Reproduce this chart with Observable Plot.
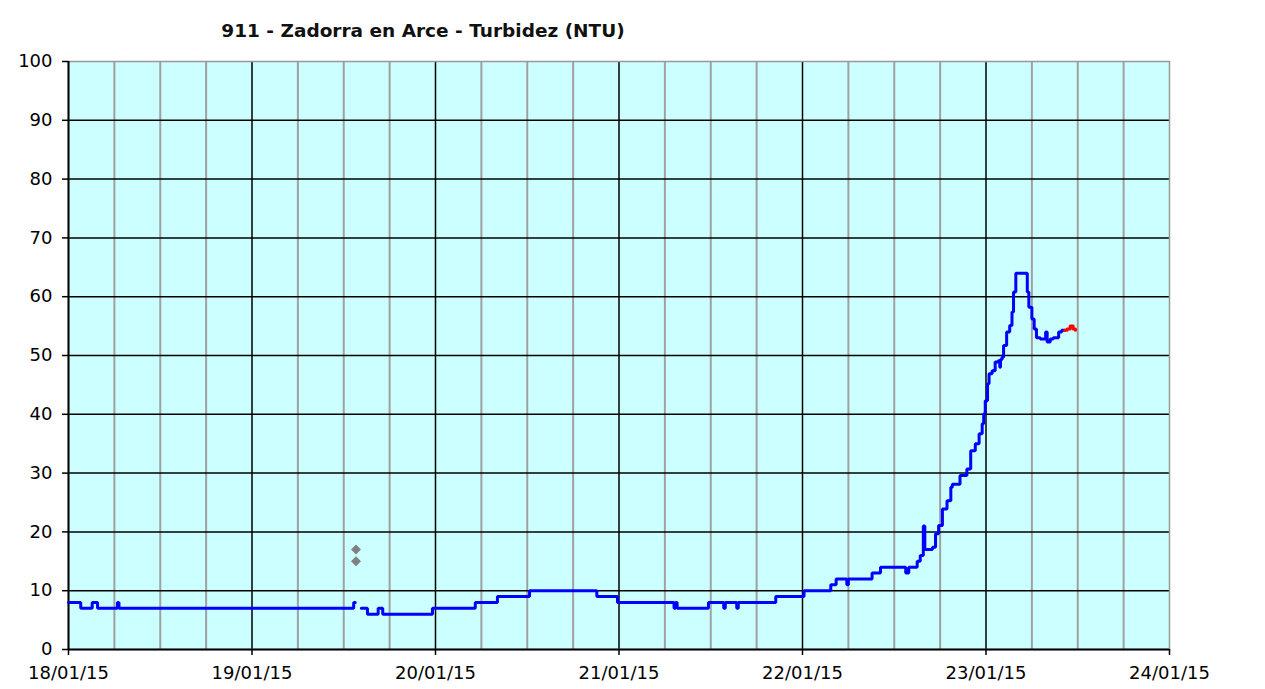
<!DOCTYPE html>
<html>
<head>
<meta charset="utf-8">
<script src="https://cdn.jsdelivr.net/npm/d3@7"></script>
<script src="https://cdn.jsdelivr.net/npm/@observablehq/plot@0.6"></script>
<style>
  html, body { margin: 0; padding: 0; background: #ffffff; }
  #wrap { position: relative; width: 1265px; height: 689px; }
  #title { position: absolute; left: 0; width: 846px; top: 20px; text-align: center;
           font-family: "DejaVu Sans", sans-serif; font-weight: bold; font-size: 18.5px; color: #111; line-height: 22px; }
  #chart { position: absolute; left: 0; top: 0; }
</style>
</head>
<body>
<div id="wrap">
  <div id="title">911 - Zadorra en Arce - Turbidez (NTU)</div>
  <div id="chart"></div>
</div>
<script>
// Time origin of the chart (18/01/15 00:00) and hours after it
const startDate = "2015-01-18T00:00:00Z";
const endDate = "2015-01-24T00:00:00Z";
const dayTicks = ["2015-01-18","2015-01-19","2015-01-20","2015-01-21","2015-01-22","2015-01-23","2015-01-24"];
const yTickValues = [0,10,20,30,40,50,60,70,80,90,100];

// Blue series (validated data): hours after start, turbidity (NTU); null = gap
const blueHours = [0,1.6,3.1,3.8,6.4,6.6,37.3,37.5,37.6,
  38.3,39.1,40.5,41.1,47.6,53.2,56.1,60.3,69.1,71.8,79.2,79.4,79.6,83.7,85.7,85.9,87.4,87.6,92.5,96.2,
  99.7,100.4,101.8,102.0,105.1,106.2,109.5,109.9,111.0,111.4,111.8,112.0,113.0,113.4,113.8,114.3,114.9,
  115.4,115.6,116.6,117.5,118.0,118.6,119.1,119.5,119.7,119.9,120.2,120.4,120.8,121.2,121.6,121.8,121.9,
  122.1,122.3,122.7,123.1,123.4,123.6,123.9,125.4,125.6,126.0,126.3,126.6,127.1,127.8,128.0,128.4,128.8,
  129.5,129.9,130.3];
const blueValues = [8,7,8,7,8,7,8,8,null,
  7,6,7,6,7,8,9,10,9,8,7,8,7,8,7,8,7,8,9,10,
  11,12,11,12,13,14,13,14,15,16,21,17,17.4,19.7,21.1,23.9,25.3,
  27.6,28.1,29.6,30.7,33.8,35,36.7,38.4,40.1,42.3,45.2,46.9,47.4,48.9,49.1,48,49.3,
  49.7,51.7,54,55.1,57.4,60.8,64,60.8,58.2,56.2,54.5,53,52.8,54,52.3,52.8,53,
  54,54.3,54.3];

// Red series (provisional data)
const redHours = [130.3,130.6,131.0,131.4,131.7];
const redValues = [54.3,54.5,55,54.5,54.3];

// Gray isolated points
const grayHours = [37.6,37.6];
const grayValues = [17,15];

const t0 = new Date(startDate).getTime();
const toDate = h => new Date(t0 + h * 3600e3);
const blue = blueHours.map((h,i) => ({t: toDate(h), v: blueValues[i]}));
const red = redHours.map((h,i) => ({t: toDate(h), v: redValues[i]}));
const gray = grayHours.map((h,i) => ({t: toDate(h), v: grayValues[i]}));
const days = dayTicks.map(d => new Date(d + "T00:00:00Z"));
const sixHours = d3.utcHour.every(6).range(new Date(startDate), new Date(endDate)).filter(d => d.getUTCHours() !== 0);

const chart = Plot.plot({
  width: 1265,
  height: 689,
  marginLeft: 68,
  marginRight: 96,
  marginTop: 61,
  marginBottom: 40,
  style: {fontFamily: "DejaVu Sans, sans-serif", fontSize: "18px", color: "#000", background: "transparent"},
  x: {type: "utc", domain: [new Date(startDate), new Date(endDate)]},
  y: {domain: [0, 100]},
  marks: [
    Plot.frame({fill: "#ccffff", stroke: null}),
    Plot.ruleX(sixHours, {stroke: "#a0a0a0", strokeWidth: 2}),
    Plot.ruleY(yTickValues.filter(v => v > 0 && v < 100), {stroke: "#000", strokeWidth: 1.5}),
    Plot.ruleX(days.slice(1, 6), {stroke: "#000", strokeWidth: 1.5}),
    Plot.frame({stroke: "#999", strokeWidth: 1.5}),
    Plot.ruleX([days[0]], {stroke: "#000", strokeWidth: 2}),
    Plot.ruleY([0], {stroke: "#000", strokeWidth: 2}),
    Plot.axisY({ticks: yTickValues, tickSize: 6, tickPadding: 10, tickFormat: d => String(d), label: null, strokeWidth: 1.5}),
    Plot.axisX({ticks: days, tickSize: 6, tickPadding: 11, tickFormat: d3.utcFormat("%d/%m/%y"), label: null, strokeWidth: 1.5}),
    Plot.dot(gray, {x: "t", y: "v", symbol: "diamond2", r: 4.5, fill: "#808080", stroke: null}),
    Plot.line(blue, {x: "t", y: "v", curve: "step-after", stroke: "#0000ff", strokeWidth: 3, strokeLinejoin: "miter"}),
    Plot.line(red, {x: "t", y: "v", curve: "step-after", stroke: "#ff0000", strokeWidth: 3})
  ]
});
document.getElementById("chart").appendChild(chart);
</script>
</body>
</html>
